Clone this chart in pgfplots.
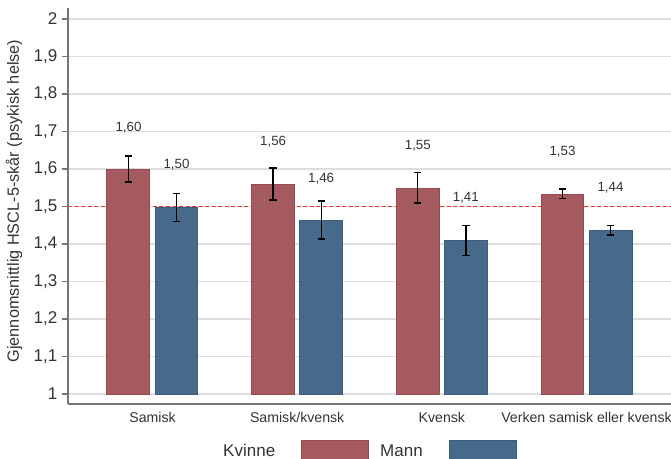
\documentclass[border=0pt]{standalone}
\usepackage{fontspec}
\setmainfont{Liberation Sans}
\usepackage{pgfplots}
\usepackage{pgfplotstable}
\pgfplotsset{compat=1.18}

\definecolor{barred}{HTML}{A55A5F}
\definecolor{barrededge}{HTML}{964A52}
\definecolor{barblue}{HTML}{476A8A}
\definecolor{barblueedge}{HTML}{3A5E80}
\definecolor{axisgray}{HTML}{767676}
\definecolor{gridgray}{HTML}{DEDEDE}
\definecolor{reflinered}{HTML}{E8352E}
\definecolor{txt}{HTML}{333333}

% x: category index, y: mean, ep/em: upper and lower CI length, lab: printed value
\pgfplotstableread{
x y ep em lab
0 1.598 0.037 0.033 1,60
1 1.560 0.043 0.043 1,56
2 1.549 0.042 0.040 1,55
3 1.533 0.014 0.011 1,53
}\kvinne
\pgfplotstableread{
x y ep em lab
0 1.498 0.037 0.038 1,50
1 1.462 0.053 0.049 1,46
2 1.409 0.041 0.039 1,41
3 1.436 0.014 0.012 1,44
}\mann

\pgfplotsset{
    ci/.style={draw=none, no markers, forget plot,
        x filter/.expression={x+#1},
        error bars/.cd, y dir=both, y explicit, error mark=|,
        error bar style={black, line width=1pt},
        error mark options={black, line width=1pt, mark size=2.75pt}},
    vallab/.style={draw=none, no markers, forget plot,
        nodes near coords, point meta=explicit symbolic,
        nodes near coords style={font=\fontsize{10}{12}\selectfont, text=txt,
            anchor=center, yshift=31.8pt, xshift=#1}},
}

\begin{document}
\begin{tikzpicture}
\clip (0,0) rectangle (503.25pt,-343.5pt);
\begin{axis}[
    at={(51pt,-303pt)}, anchor=south west,
    scale only axis, width=452.25pt, height=297pt,
    xmin=-0.584, xmax=3.584,
    ymin=-0.02667, ymax=1.02933,
    y filter/.expression={y-1},
    axis lines=left,
    axis line style={-, draw=axisgray, line width=1.1pt},
    xtick={0,1,2,3},
    xticklabels={Samisk, Samisk/kvensk, Kvensk, Verken samisk eller kvensk},
    xtick style={draw=none},
    xticklabel style={font=\fontsize{10.6}{12}\selectfont, text=txt, yshift=2pt},
    ytick={0,0.1,...,1},
    yticklabels={1,{1,1},{1,2},{1,3},{1,4},{1,5},{1,6},{1,7},{1,8},{1,9},2},
    ytick style={draw=axisgray, line width=1.1pt},
    tick align=outside, major tick length=4.5pt,
    yticklabel style={font=\fontsize{12.75}{14}\selectfont, text=txt},
    ymajorgrids, major grid style={draw=gridgray, line width=1.1pt},
    ylabel={Gjennomsnittlig HSCL-5-skår (psykisk helse)},
    every axis y label/.style={at={(axis description cs:-0.0896,0.5126)}, rotate=90, anchor=center},
    ylabel style={font=\fontsize{12.2}{14}\selectfont, text=txt},
    legend plot pos=right,
    legend columns=2,
    legend style={draw=none, fill=none, inner sep=0pt, column sep=8.25pt,
        nodes={inner sep=0pt}, font=\fontsize{12.75}{14}\selectfont, text=txt,
        at={(axis description cs:0.257,-0.0909)}, anchor=north west},
]
\addplot[reflinered, line width=1pt, dash pattern=on 3pt off 1.9pt, forget plot]
    coordinates {(-0.584,1.5) (3.584,1.5)};

\addplot[ybar, bar width=0.297, bar shift=-0.166,
    fill=barred, draw=barrededge, line width=0.75pt,
    legend image code/.code={\path (-11.25pt,0pt);
        \draw[fill=barred, draw=barrededge, line width=0.75pt] (0pt,-8.5pt) rectangle (50.25pt,7.9pt);}]
    table[x=x, y=y] {\kvinne};
\addlegendentry{Kvinne}

\addplot[ybar, bar width=0.297, bar shift=0.166,
    fill=barblue, draw=barblueedge, line width=0.75pt,
    legend image code/.code={\path (-11.25pt,0pt);
        \draw[fill=barblue, draw=barblueedge, line width=0.75pt] (0pt,-8.5pt) rectangle (50.25pt,7.9pt);}]
    table[x=x, y=y] {\mann};
\addlegendentry{Mann}

% confidence intervals, moved onto the bar centres
\addplot[ci=-0.166] table[x=x, y=y, y error plus=ep, y error minus=em] {\kvinne};
\addplot[ci=0.166] table[x=x, y=y, y error plus=ep, y error minus=em] {\mann};

% value labels above the bars
\addplot[vallab=-18pt] table[x=x, y=y, meta=lab] {\kvinne};
\addplot[vallab=18pt] table[x=x, y=y, meta=lab] {\mann};
\end{axis}
\end{tikzpicture}
\end{document}
